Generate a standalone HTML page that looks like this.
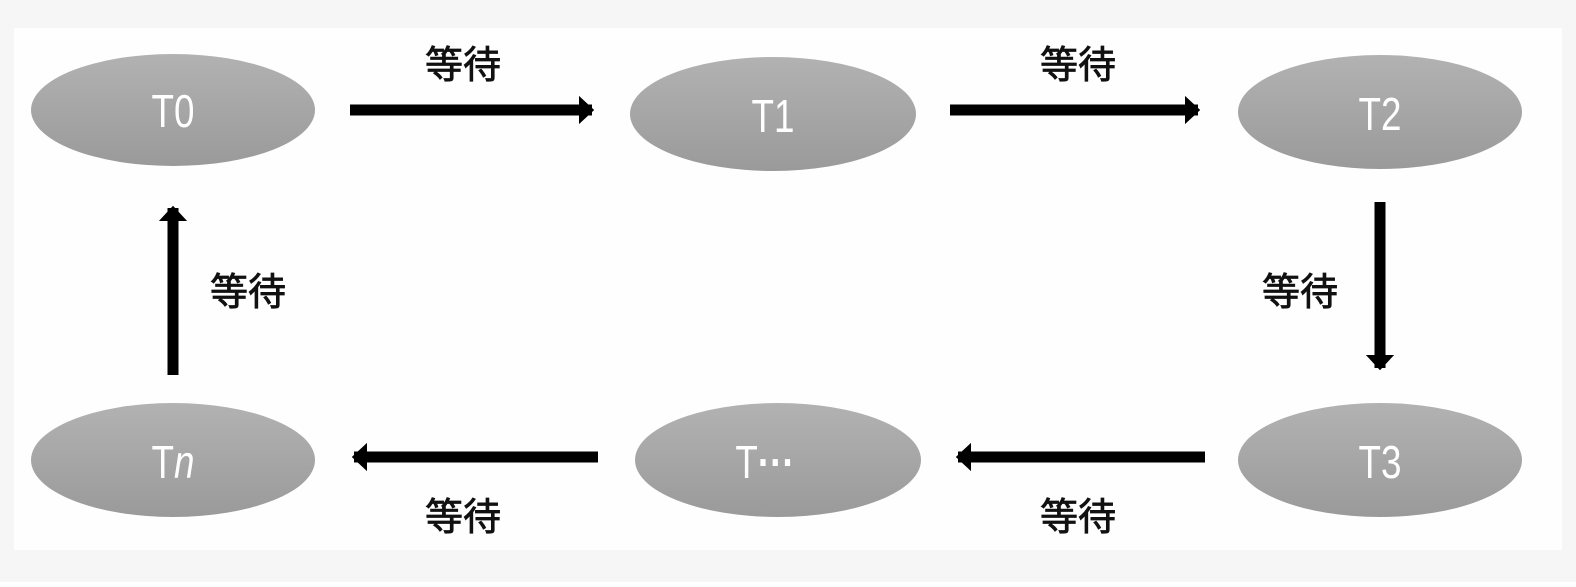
<!DOCTYPE html>
<html><head><meta charset="utf-8"><style>
html,body{margin:0;padding:0;background:#fff;}
</style></head><body>
<svg width="1576" height="582" viewBox="0 0 1576 582" xmlns="http://www.w3.org/2000/svg">
<defs>
<linearGradient id="g" x1="0" y1="0" x2="0" y2="1">
<stop offset="0" stop-color="#b2b2b2"/><stop offset="1" stop-color="#9a9a9a"/>
</linearGradient>
<marker id="a" markerWidth="3" markerHeight="3" refX="1.2" refY="1.5" orient="auto" markerUnits="strokeWidth">
<path d="M0,0.2 L1.4,1.5 L0,2.8 Z" fill="#000"/>
</marker>
</defs>
<rect width="1576" height="582" fill="#f6f6f6"/>
<rect x="14" y="28" width="1548" height="522" fill="#fefefe"/>
<g fill="url(#g)">
<ellipse cx="173" cy="110" rx="142" ry="56"/>
<ellipse cx="773" cy="114" rx="143" ry="57"/>
<ellipse cx="1380" cy="112" rx="142" ry="57"/>
<ellipse cx="1380" cy="460" rx="142" ry="57"/>
<ellipse cx="778" cy="460" rx="143" ry="57"/>
<ellipse cx="173" cy="460" rx="142" ry="57"/>
</g>
<g fill="#fff" font-family="'Liberation Sans',sans-serif" font-size="46" text-anchor="middle">
<text transform="translate(173,127) scale(0.8,1)">T0</text>
<text transform="translate(773,132) scale(0.8,1)">T1</text>
<text transform="translate(1380,130) scale(0.8,1)">T2</text>
<text transform="translate(1380,478) scale(0.8,1)">T3</text>
<text transform="translate(765,478) scale(0.8,1)">T<tspan font-weight="bold">···</tspan></text>
<text transform="translate(173,478) scale(0.8,1)">T<tspan font-style="italic">n</tspan></text>
</g>
<g stroke="#000" stroke-width="11" marker-end="url(#a)">
<line x1="350" y1="110" x2="592" y2="110"/>
<line x1="950" y1="110" x2="1198" y2="110"/>
<line x1="1380" y1="202" x2="1380" y2="368"/>
<line x1="1205" y1="457" x2="958" y2="457"/>
<line x1="598" y1="457" x2="354" y2="457"/>
<line x1="173" y1="375" x2="173" y2="208"/>
</g>
<g fill="#111" stroke="#111" stroke-width="0.8" font-family="'Liberation Sans','Noto Sans CJK SC',sans-serif" font-size="38" text-anchor="middle">
<text x="463" y="78">等待</text>
<text x="1078" y="78">等待</text>
<text x="1300" y="305">等待</text>
<text x="248" y="305">等待</text>
<text x="1078" y="530">等待</text>
<text x="463" y="530">等待</text>
</g>
</svg>
</body></html>
